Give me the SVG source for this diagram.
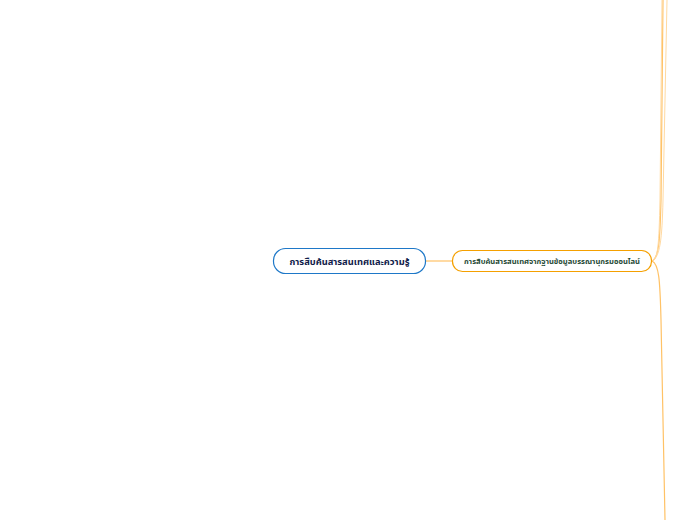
<svg xmlns="http://www.w3.org/2000/svg" width="696" height="520" viewBox="0 0 696 520">
<style>
.c{fill:none;stroke:#ffc266;stroke-width:1.2}
.c2{fill:none;stroke:#ffd9a0;stroke-width:1}
.t{font-family:"Noto Sans Thai","Noto Sans","DejaVu Sans",sans-serif;font-weight:bold;text-anchor:middle}
</style>
<rect width="696" height="520" fill="#ffffff"/>
<g id="connectors">
<path class="c" d="M426,261 L452,261"/>
<path class="c" d="M652,261 C659,258 660,240 661,200 L663,0"/>
<path class="c2" d="M652,261 C660,257 662,240 663,200 L667,0"/>
<path class="c2" d="M652,261 C658,259 659,245 660,200 L662,0"/>
<path class="c" d="M652,261 C659,264 660,280 661,320 L665,520"/>
</g>
<g id="root">
<rect x="273.5" y="248.5" width="152" height="25" rx="12" fill="#ffffff" stroke="#1e78c8" stroke-width="1.2"/>
<text class="t" x="349.5" y="264.5" font-size="9.3" fill="#10204a">การสืบค้นสารสนเทศและความรู้</text>
</g>
<g id="branch">
<rect x="452.5" y="250.5" width="199" height="21" rx="10" fill="#ffffff" stroke="#f5a000" stroke-width="1.2"/>
<text class="t" x="552" y="264" font-size="7.6" fill="#1f4a35">การสืบค้นสารสนเทศจากฐานข้อมูลบรรณานุกรมออนไลน์</text>
</g>
</svg>
